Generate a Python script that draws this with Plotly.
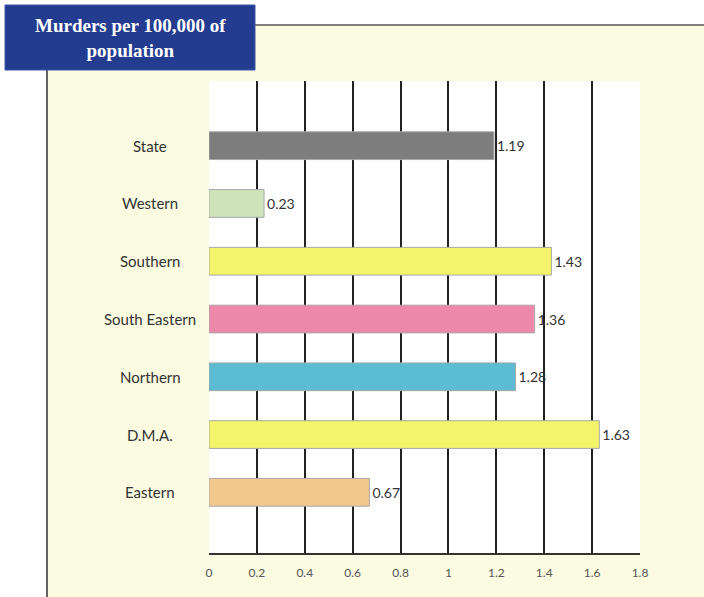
import plotly.graph_objects as go

# Data (bottom-to-top order for plotly horizontal bars)
regions = ["Eastern", "D.M.A.", "Northern", "South Eastern", "Southern", "Western", "State"]
murders = [0.67, 1.63, 1.28, 1.36, 1.43, 0.23, 1.19]
colors = ["#f2c88f", "#f4f46a", "#5cbcd3", "#ee88aa", "#f4f46a", "#cfe3bb", "#7d7d7d"]
x_ticks = [0, 0.2, 0.4, 0.6, 0.8, 1, 1.2, 1.4, 1.6, 1.8]
title_lines = ["Murders per 100,000 of", "population"]

W, H = 704, 597
L, R, T, B = 209, 64, 81, 44
pw, ph = W - L - R, H - T - B

def px(x):
    return (x - L) / pw

def py(y):
    return (H - B - y) / ph

label_font = "Lato, 'Noto Sans', sans-serif"

fig = go.Figure()
fig.add_trace(go.Bar(
    y=regions, x=murders, orientation="h",
    marker=dict(color=colors, line=dict(color="#a8a8a8", width=1)),
    width=0.48,
    text=[f"{v:.2f}" for v in murders],
    textposition="outside",
    textfont=dict(family=label_font, size=14, color="#333333"),
    cliponaxis=False,
    hoverinfo="skip",
))

shapes = [
    # white margins outside the cream panel
    dict(type="rect", xref="paper", yref="paper", x0=px(-5), x1=px(W + 5), y0=py(25), y1=py(-5),
         fillcolor="white", line=dict(width=0), layer="below"),
    dict(type="rect", xref="paper", yref="paper", x0=px(-5), x1=px(47), y0=py(H + 5), y1=py(-5),
         fillcolor="white", line=dict(width=0), layer="below"),
    # top rule
    dict(type="line", xref="paper", yref="paper", x0=px(255), x1=px(W), y0=py(25), y1=py(25),
         line=dict(color="#555555", width=1.5)),
    # left rule
    dict(type="line", xref="paper", yref="paper", x0=px(47), x1=px(47), y0=py(70), y1=py(H),
         line=dict(color="#333333", width=1.5)),
    # title box
    dict(type="rect", xref="paper", yref="paper", x0=px(5), x1=px(255), y0=py(70), y1=py(5),
         fillcolor="#233c90", line=dict(color="#3a55a8", width=1)),
]

annotations = [
    dict(xref="paper", yref="paper", x=px(130), y=py(38),
         text="<br>".join(f"<b>{t}</b>" for t in title_lines),
         showarrow=False, xanchor="center", yanchor="middle",
         font=dict(family="'Liberation Serif', serif", size=19, color="white"),
         align="center"),
]
for r in regions:
    annotations.append(dict(xref="paper", yref="y", x=px(150), y=r, text=r, showarrow=False,
                            xanchor="center", yanchor="middle",
                            font=dict(family=label_font, size=15, color="#333333")))

fig.update_layout(
    width=W, height=H,
    margin=dict(l=L, r=R, t=T, b=B, pad=0),
    paper_bgcolor="#fafbe1",
    plot_bgcolor="white",
    showlegend=False,
    shapes=shapes,
    annotations=annotations,
    xaxis=dict(range=[0, 1.8], tickvals=x_ticks, ticktext=[str(t) for t in x_ticks],
               showgrid=True, gridcolor="#222222", gridwidth=1.5,
               zeroline=False, showline=True, linecolor="#333333", linewidth=1.5,
               ticks="", ticklabelstandoff=8,
               tickfont=dict(family=label_font, size=12, color="#555555")),
    yaxis=dict(type="category", categoryorder="array", categoryarray=regions,
               range=[-1.05, 7.12], showgrid=False, showticklabels=False,
               zeroline=False, showline=False, ticks=""),
)

fig.write_html("out.html", config={"displayModeBar": False},
               post_script="document.body.style.margin='0';document.body.style.overflow='hidden';")
